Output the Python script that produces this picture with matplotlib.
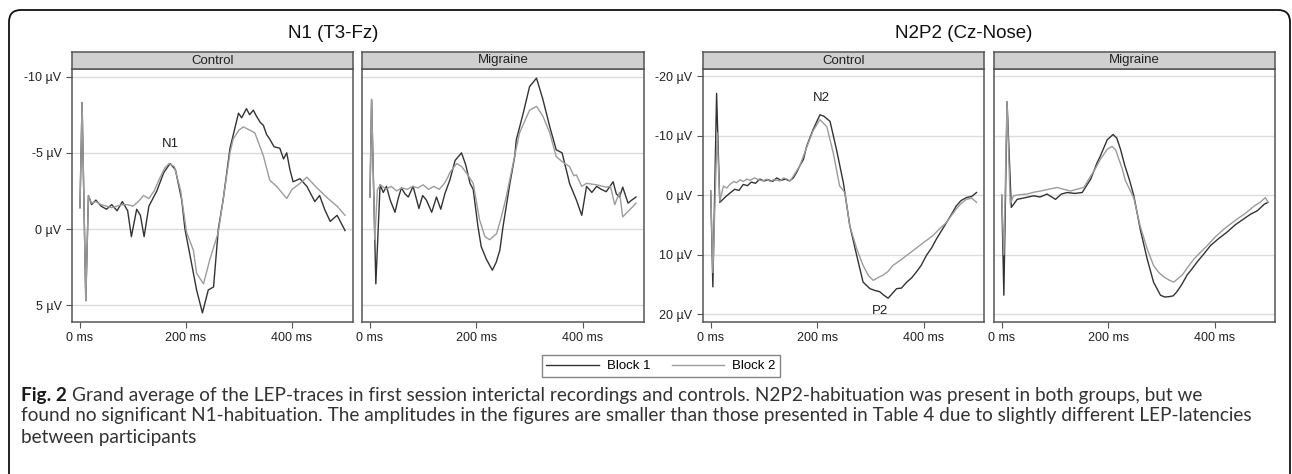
"""Grand average LEP traces, N1 and N2P2, two blocks."""
import matplotlib
matplotlib.use("Agg")
import matplotlib.pyplot as plt
from matplotlib.patches import FancyBboxPatch
from matplotlib.transforms import IdentityTransform

W, H = 1292, 474
DARK = "#333333"
LIGHT = "#9c9c9c"

# ---- data (ms, microvolt; negative is drawn upwards) ----
n1_ctrl_t1 = [0, 4, 11, 16, 22, 30, 40, 50, 60, 70, 80, 90, 97, 107, 114, 121, 130, 145, 158, 170,
              180, 192, 198, 208, 220, 231, 242, 252, 261, 270, 283, 299, 305, 314, 320, 327, 333,
              340, 346, 352, 358, 366, 377, 384, 390, 396, 402, 415, 428, 443, 452, 462, 472, 485, 494, 500]
n1_ctrl_v1 = [-1.4, -8.3, 4.7, -2.2, -1.6, -1.9, -1.5, -1.3, -1.6, -1.2, -1.8, -1.2, 0.5, -1.3, -0.9,
              0.5, -1.5, -2.5, -3.7, -4.3, -3.9, -1.9, 0.0, 1.8, 4.0, 5.5, 4.0, 3.8, 0.0, -1.9, -5.3,
              -7.6, -7.3, -7.9, -7.5, -7.8, -7.4, -7.0, -6.8, -6.2, -5.9, -5.4, -5.3, -4.6, -5.0, -3.9,
              -3.1, -3.3, -2.8, -1.8, -2.2, -1.25, -0.5, -0.9, -0.3, 0.1]

n1_ctrl_t2 = [0, 4, 11, 16, 22, 30, 40, 50, 60, 70, 80, 90, 100, 110, 120, 130, 140, 150, 160, 168,
              178, 190, 201, 214, 220, 233, 245, 261, 270, 283, 289, 300, 308, 320, 330, 346, 358,
              371, 390, 400, 415, 428, 447, 468, 485, 500]
n1_ctrl_v2 = [-1.4, -8.3, 4.7, -2.2, -1.7, -1.8, -1.6, -1.5, -1.4, -1.5, -1.6, -1.6, -1.5, -1.8,
              -2.2, -2.0, -2.5, -3.3, -4.0, -4.3, -4.1, -2.5, 0.2, 1.4, 2.9, 3.6, 2.0, 0.2, -1.9,
              -5.0, -5.9, -6.5, -6.7, -6.5, -6.3, -4.8, -3.2, -2.8, -2.0, -2.6, -3.0, -3.4, -2.7,
              -2.0, -1.5, -0.9]

n1_migr_t1 = [0, 3, 11, 19, 25, 31, 38, 47, 53, 59, 66, 72, 81, 92, 99, 106, 116, 125, 133, 141,
              150, 160, 172, 180, 188, 194, 203, 209, 219, 230, 237, 244, 250, 263, 272, 275, 288,
              300, 313, 325, 338, 350, 361, 372, 375, 388, 398, 407, 417, 426, 435, 444, 457, 463,
              469, 475, 485, 492, 500]
n1_migr_v1 = [-2.1, -8.5, 3.6, -2.9, -2.4, -2.8, -1.9, -1.1, -2.0, -2.7, -2.3, -2.1, -2.8, -1.35,
              -2.2, -1.9, -1.1, -2.1, -1.3, -2.35, -3.2, -4.5, -5.0, -4.2, -3.0, -2.6, -0.15, 1.15,
              2.0, 2.7, 2.2, 1.4, -0.15, -3.0, -4.75, -5.85, -7.6, -9.35, -9.9, -8.5, -6.7, -5.2,
              -5.0, -3.45, -3.0, -1.9, -0.9, -2.8, -2.4, -2.8, -2.6, -2.45, -3.1, -2.3, -2.1, -2.75,
              -1.7, -1.9, -2.1]

n1_migr_t2 = [0, 3, 9, 14, 20, 30, 40, 50, 60, 70, 80, 90, 100, 110, 120, 130, 140, 147, 150, 163,
              172, 181, 194, 206, 216, 225, 238, 247, 256, 269, 281, 300, 313, 325, 338, 350, 362,
              375, 383, 388, 398, 407, 426, 444, 452, 460, 469, 475, 488, 500]
n1_migr_v2 = [-2.1, -8.5, 0.7, -2.6, -2.9, -2.6, -2.8, -2.5, -2.7, -2.6, -2.8, -2.7, -2.9, -2.6,
              -2.8, -2.6, -3.0, -3.45, -3.7, -4.3, -4.1, -3.7, -3.0, -0.6, 0.5, 0.7, 0.3, -0.8,
              -2.1, -4.3, -6.3, -7.8, -8.05, -7.4, -6.3, -4.75, -4.4, -4.1, -3.5, -3.55, -2.8,
              -3.0, -2.9, -2.75, -2.8, -1.6, -2.4, -0.8, -1.25, -1.7]

n2_ctrl_t1 = [0, 4, 11, 17, 24, 30, 38, 45, 53, 61, 69, 76, 84, 92, 100, 108, 116, 124, 132, 140,
              148, 155, 161, 167, 174, 180, 192, 205, 212, 224, 236, 249, 261, 274, 286, 299, 308,
              317, 325, 333, 341, 349, 358, 368, 377, 386, 395, 405, 415, 424, 433, 443, 452, 461,
              470, 480, 490, 499]
n2_ctrl_v1 = [-0.7, 15.4, -17.1, 1.2, 0.6, 0.1, -0.5, -1.0, -0.8, -1.8, -1.6, -2.2, -2.0, -2.7,
              -2.4, -2.6, -2.3, -2.9, -2.5, -2.7, -2.4, -2.9, -3.8, -4.9, -6.0, -8.2, -11.0, -13.5,
              -13.3, -12.4, -7.7, -2.1, 5.1, 10.1, 14.6, 15.7, 16.0, 16.2, 16.8, 17.3, 16.5, 15.7,
              15.6, 14.6, 13.9, 12.9, 11.8, 10.1, 8.8, 7.3, 6.0, 4.55, 3.2, 1.8, 0.9, 0.4, 0.2,
              -0.45]

n2_ctrl_t2 = [0, 4, 12, 17, 24, 30, 36, 43, 49, 55, 61, 68, 74, 82, 90, 98, 105, 112, 118, 124,
              130, 137, 143, 149, 155, 167, 180, 192, 205, 218, 230, 242, 252, 261, 274, 286, 296,
              305, 315, 324, 333, 342, 355, 368, 380, 392, 405, 417, 430, 443, 452, 461, 470, 480,
              490, 499]
n2_ctrl_v2 = [-0.7, 13.0, -10.5, 1.0, -1.55, -1.2, -1.8, -2.3, -2.1, -2.6, -2.3, -2.7, -2.5, -2.9,
              -2.6, -2.4, -2.7, -2.3, -2.6, -2.5, -2.4, -2.9, -2.7, -2.4, -3.2, -4.9, -8.0, -10.8,
              -12.7, -11.5, -7.1, -1.55, -0.45, 5.1, 9.0, 11.8, 13.5, 14.3, 13.8, 13.4, 12.8, 11.8,
              11.0, 10.1, 9.3, 8.45, 7.6, 6.8, 5.6, 4.55, 3.4, 2.3, 1.4, 0.7, 0.5, 1.2]

n2_migr_t1 = [0, 4, 10, 18, 29, 45, 60, 72, 85, 101, 112, 123, 137, 151, 167, 179, 185, 198, 209,
              216, 223, 231, 240, 248, 260, 273, 285, 298, 306, 314, 322, 329, 338, 348, 357, 367,
              380, 392, 407, 423, 438, 454, 467, 480, 493, 500]
n2_migr_v1 = [0.0, 16.8, -15.7, 2.05, 0.7, 0.4, 0.1, 0.3, -0.2, 0.7, -0.2, -0.45, -0.3, -0.45, -2.7,
              -5.45, -6.55, -9.3, -10.2, -9.6, -7.7, -5.0, -2.5, 0.1, 5.7, 10.7, 14.6, 16.8, 17.1,
              17.05, 16.9, 16.2, 15.0, 13.4, 12.4, 11.2, 9.8, 8.45, 7.3, 6.2, 5.0, 4.0, 3.2, 2.6,
              1.5, 1.2]

n2_migr_t2 = [0, 4, 10, 16, 22, 35, 48, 60, 73, 88, 104, 116, 129, 141, 154, 167, 176, 185, 198,
              207, 214, 220, 226, 232, 240, 248, 260, 273, 285, 295, 304, 313, 323, 331, 339, 350,
              361, 373, 386, 401, 417, 430, 442, 458, 474, 485, 495, 500]
n2_migr_v2 = [0.0, 10.0, -15.7, 1.5, 0.1, -0.1, -0.2, -0.5, -0.7, -1.0, -1.3, -1.0, -0.7, -1.0,
              -1.3, -3.2, -4.5, -6.0, -7.7, -8.2, -7.6, -6.0, -4.5, -2.5, -1.0, 0.5, 5.2, 9.0, 11.8,
              13.0, 13.7, 14.2, 14.6, 14.0, 13.4, 12.0, 10.7, 9.6, 8.45, 7.0, 5.7, 4.8, 4.0, 3.0,
              1.8, 1.2, 0.4, 1.2]

x_ticks = [0, 200, 400]
n1_yticks = [-10, -5, 0, 5]
n2_yticks = [-20, -10, 0, 10, 20]
groups = ["Control", "Migraine"]
block_labels = ["Block 1", "Block 2"]
caption_lines = [
    "Grand average of the LEP-traces in first session interictal recordings and controls. "
    "N2P2-habituation was present in both groups, but we",
    "found no significant N1-habituation. The amplitudes in the figures are smaller than those "
    "presented in Table 4 due to slightly different LEP-latencies",
    "between participants",
]

plt.rcParams["font.family"] = ["Liberation Sans", "DejaVu Sans"]

fig = plt.figure(figsize=(W / 100, H / 100), dpi=100)


def px_axes(x0, y0, x1, y1):
    """Axes from pixel box (top-left origin)."""
    return fig.add_axes([x0 / W, 1 - y1 / H, (x1 - x0) / W, (y1 - y0) / H])


def panel(x0, x1, label, traces, yticks, ylim, xlim, show_y):
    ax = px_axes(x0, 69, x1, 322)
    for t, v, c in traces:
        ax.plot(t, v, color=c, lw=1.0, zorder=3)
    ax.set_xlim(*xlim)
    ax.set_ylim(*ylim)
    ax.set_yticks(yticks)
    ax.yaxis.grid(True, color="#dcdcdc", lw=1.0, zorder=0)
    ax.set_xticks(x_ticks)
    ax.set_xticklabels([f"{x} ms" for x in x_ticks], fontsize=9, color="#222")
    ax.tick_params(direction="out", length=4, width=0.8, color="#555")
    if show_y:
        ax.set_yticklabels([f"{y} µV" for y in yticks], fontsize=9, color="#222")
    else:
        ax.tick_params(axis="y", length=0, labelleft=False)
    for s in ax.spines.values():
        s.set_color("#555")
        s.set_linewidth(1.1)
    strip = px_axes(x0, 52, x1, 69)
    strip.set_facecolor("#d0d0d0")
    strip.set_xticks([])
    strip.set_yticks([])
    for s in strip.spines.values():
        s.set_color("#555")
        s.set_linewidth(1.1)
    strip.text(0.5, 0.5, label, ha="center", va="center", fontsize=9.5, color="#222",
               transform=strip.transAxes)
    return ax


n1_lim = (6.1, -10.5)
n2_lim = (21.3, -21.2)
ax_a = panel(72, 353, groups[0], [(n1_ctrl_t1, n1_ctrl_v1, DARK), (n1_ctrl_t2, n1_ctrl_v2, LIGHT)],
             n1_yticks, n1_lim, (-15, 515), True)
ax_b = panel(362, 644, groups[1], [(n1_migr_t1, n1_migr_v1, DARK), (n1_migr_t2, n1_migr_v2, LIGHT)],
             n1_yticks, n1_lim, (-15, 515), False)
ax_c = panel(703, 984, groups[0], [(n2_ctrl_t1, n2_ctrl_v1, DARK), (n2_ctrl_t2, n2_ctrl_v2, LIGHT)],
             n2_yticks, n2_lim, (-14.5, 513), True)
ax_d = panel(994, 1275, groups[1], [(n2_migr_t1, n2_migr_v1, DARK), (n2_migr_t2, n2_migr_v2, LIGHT)],
             n2_yticks, n2_lim, (-14.5, 513), False)

ax_a.text(170, -5.6, "N1", ha="center", va="center", fontsize=9.5, color="#222")
ax_c.text(208, -16.3, "N2", ha="center", va="center", fontsize=9.5, color="#222")
ax_c.text(317, 19.4, "P2", ha="center", va="center", fontsize=9.5, color="#222")

fig.text(333 / W, 1 - 34 / H, "N1 (T3-Fz)", ha="center", va="center", fontsize=13.5, color="#111")
fig.text(964 / W, 1 - 34 / H, "N2P2 (Cz-Nose)", ha="center", va="center", fontsize=13.5, color="#111")

handles = [plt.Line2D([], [], color=DARK, lw=1.0), plt.Line2D([], [], color=LIGHT, lw=1.0)]
leg = fig.legend(handles, block_labels, loc="center", bbox_to_anchor=(661 / W, 1 - 366 / H),
                 ncol=2, fontsize=9.5, handlelength=4.0, handletextpad=0.6, columnspacing=1.6,
                 frameon=True, fancybox=False, borderpad=0.35)
leg.get_frame().set_edgecolor("#666")
leg.get_frame().set_linewidth(1.0)

# outer rounded frame, open at the bottom of the image
frame = FancyBboxPatch((9, -30), 1281, 474 - 10 + 30, boxstyle="round,pad=0,rounding_size=12",
                       transform=IdentityTransform(), fill=False, ec="#111", lw=1.3)
fig.patches.append(frame)

# caption: bold "Fig. 2" followed by regular text, fitted to the measured line width
renderer = fig.canvas.get_renderer()
cap_font = ["Lato", "DejaVu Sans"]
probe_b = fig.text(0, 0, "Fig. 2 ", fontsize=10, fontweight="bold", family=cap_font)
probe_r = fig.text(0, 0, caption_lines[0], fontsize=10, family=cap_font)
w10 = probe_b.get_window_extent(renderer).width + probe_r.get_window_extent(renderer).width
probe_b.remove()
probe_r.remove()
cap_fs = 10 * (1208 - 21) / w10
cap_color = "#333333"
bold = fig.text(21 / W, 1 - 395 / H, "Fig. 2 ", fontsize=cap_fs, fontweight="bold",
                family=cap_font, color="#1a1a1a", va="center")
bw = bold.get_window_extent(renderer).width
fig.text((21 + bw) / W, 1 - 395 / H, caption_lines[0], fontsize=cap_fs, family=cap_font,
         color=cap_color, va="center")
fig.text(21 / W, 1 - 416 / H, caption_lines[1], fontsize=cap_fs, family=cap_font,
         color=cap_color, va="center")
fig.text(21 / W, 1 - 437 / H, caption_lines[2], fontsize=cap_fs, family=cap_font,
         color=cap_color, va="center")

fig.savefig("out.png", dpi=100)
